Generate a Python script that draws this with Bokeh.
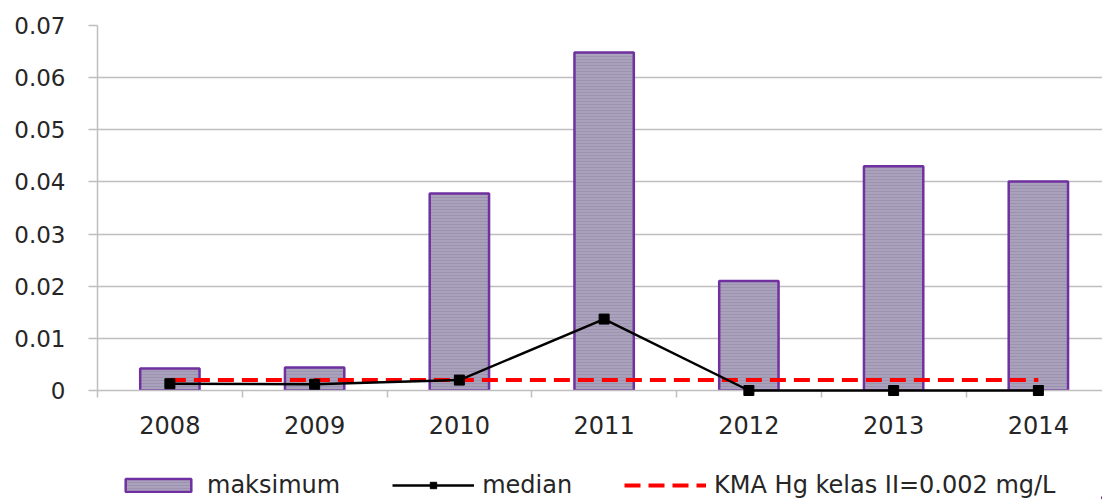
from bokeh.plotting import figure
from bokeh.layouts import column
from bokeh.models import (Range1d, FixedTicker, Legend, LegendItem, ColumnDataSource)
from bokeh.embed import file_html
from bokeh.resources import INLINE

years = [2008, 2009, 2010, 2011, 2012, 2013, 2014]
year_labels = ["2008", "2009", "2010", "2011", "2012", "2013", "2014"]
maksimum = [0.0042, 0.0044, 0.0378, 0.0648, 0.0210, 0.0430, 0.0401]
median = [0.0013, 0.0012, 0.0020, 0.0137, 0.0, 0.0, 0.0]
kma = [0.002, 0.002, 0.002, 0.002, 0.002, 0.002, 0.002]
y_ticks = [0.0, 0.01, 0.02, 0.03, 0.04, 0.05, 0.06, 0.07]
y_tick_labels = ["0", "0.01", "0.02", "0.03", "0.04", "0.05", "0.06", "0.07"]
legend_labels = ["maksimum", "median", "KMA Hg kelas II=0.002 mg/L"]

FONT = "DejaVu Sans"
TXT = "#262626"
GRID = "#bfbfbf"

BAR = dict(fill_color="#aaa2bc", line_color="#7030a0", line_width=2.5,
           hatch_pattern="horizontal_line", hatch_color="#9c93ae",
           hatch_scale=3, hatch_weight=1)
KMA = dict(line_color="#ff0000", line_width=4, line_dash="16 8")
MEDL = dict(line_color="black", line_width=2.5)
MEDP = dict(marker="square", size=10, fill_color="black", line_color="black")

src = ColumnDataSource(dict(x=years, maks=maksimum, med=median, kma=kma))

H1 = 455
p = figure(width=1102, height=H1, output_backend="svg", toolbar_location=None,
           x_range=Range1d(2007.5, 2007.5 + (1102 - 97) / 144.75),
           y_range=Range1d(0, 0.07),
           min_border_left=97, min_border_right=0, min_border_top=25,
           min_border_bottom=H1 - 390)
p.outline_line_color = None

p.vbar(x="x", top="maks", bottom=0, width=0.41, source=src, **BAR)
p.line(x="x", y="kma", source=src, **KMA)
p.line(x="x", y="med", source=src, level="overlay", **MEDL)
p.scatter(x="x", y="med", source=src, level="overlay", **MEDP)

xa = p.xaxis[0]
xa.ticker = FixedTicker(ticks=years,
                        minor_ticks=[y - 0.5 for y in years] + [years[-1] + 0.5])
xa.major_label_overrides = {y: l for y, l in zip(years, year_labels)}
xa.major_tick_out = 0
xa.major_tick_in = 0
xa.minor_tick_out = 7
xa.minor_tick_in = 0
xa.minor_tick_line_color = GRID
xa.minor_tick_line_width = 1.5
xa.axis_line_color = GRID
xa.axis_line_width = 1.5
xa.major_label_standoff = 18
xa.major_label_text_font = FONT
xa.major_label_text_font_size = "24px"
xa.major_label_text_color = TXT

ya = p.yaxis[0]
ya.ticker = FixedTicker(ticks=y_ticks)
ya.major_label_overrides = {t: l for t, l in zip(y_ticks, y_tick_labels)}
ya.major_tick_out = 9
ya.major_tick_in = 0
ya.minor_tick_out = 0
ya.minor_tick_in = 0
ya.major_tick_line_color = GRID
ya.major_tick_line_width = 1.5
ya.axis_line_color = GRID
ya.axis_line_width = 1.5
ya.major_label_standoff = 23
ya.major_label_text_font = FONT
ya.major_label_text_font_size = "23px"
ya.major_label_text_color = TXT

p.xgrid.grid_line_color = None
p.ygrid.grid_line_color = GRID
p.ygrid.grid_line_width = 1.5

# legend strip below the chart (its renderers sit outside the visible range)
H2 = 499 - H1
q = figure(width=1102, height=H2, output_backend="svg", toolbar_location=None,
           x_range=Range1d(0, 1), y_range=Range1d(0, 1),
           x_axis_location=None, y_axis_location=None,
           min_border=0, min_border_left=0, min_border_right=0,
           min_border_top=0, min_border_bottom=0)
q.outline_line_color = None
q.xgrid.grid_line_color = None
q.ygrid.grid_line_color = None
r_bar = q.vbar(x="x", top="maks", bottom=0, width=0.41, source=src, **BAR)
r_kma = q.line(x="x", y="kma", source=src, **KMA)
r_ml = q.line(x="x", y="med", source=src, **MEDL)
r_mp = q.scatter(x="x", y="med", source=src, **MEDP)

legend = Legend(items=[LegendItem(label=legend_labels[0], renderers=[r_bar]),
                       LegendItem(label=legend_labels[1], renderers=[r_ml, r_mp]),
                       LegendItem(label=legend_labels[2], renderers=[r_kma])],
                orientation="horizontal", location=(20, 0),
                glyph_width=82, glyph_height=16, label_standoff=8, spacing=52,
                padding=0, margin=0, border_line_color=None,
                background_fill_alpha=0,
                label_text_font=FONT, label_text_font_size="24px",
                label_text_color=TXT)
q.add_layout(legend)

layout = column(p, q, spacing=0)
open("out.html", "w").write(file_html(layout, INLINE))
